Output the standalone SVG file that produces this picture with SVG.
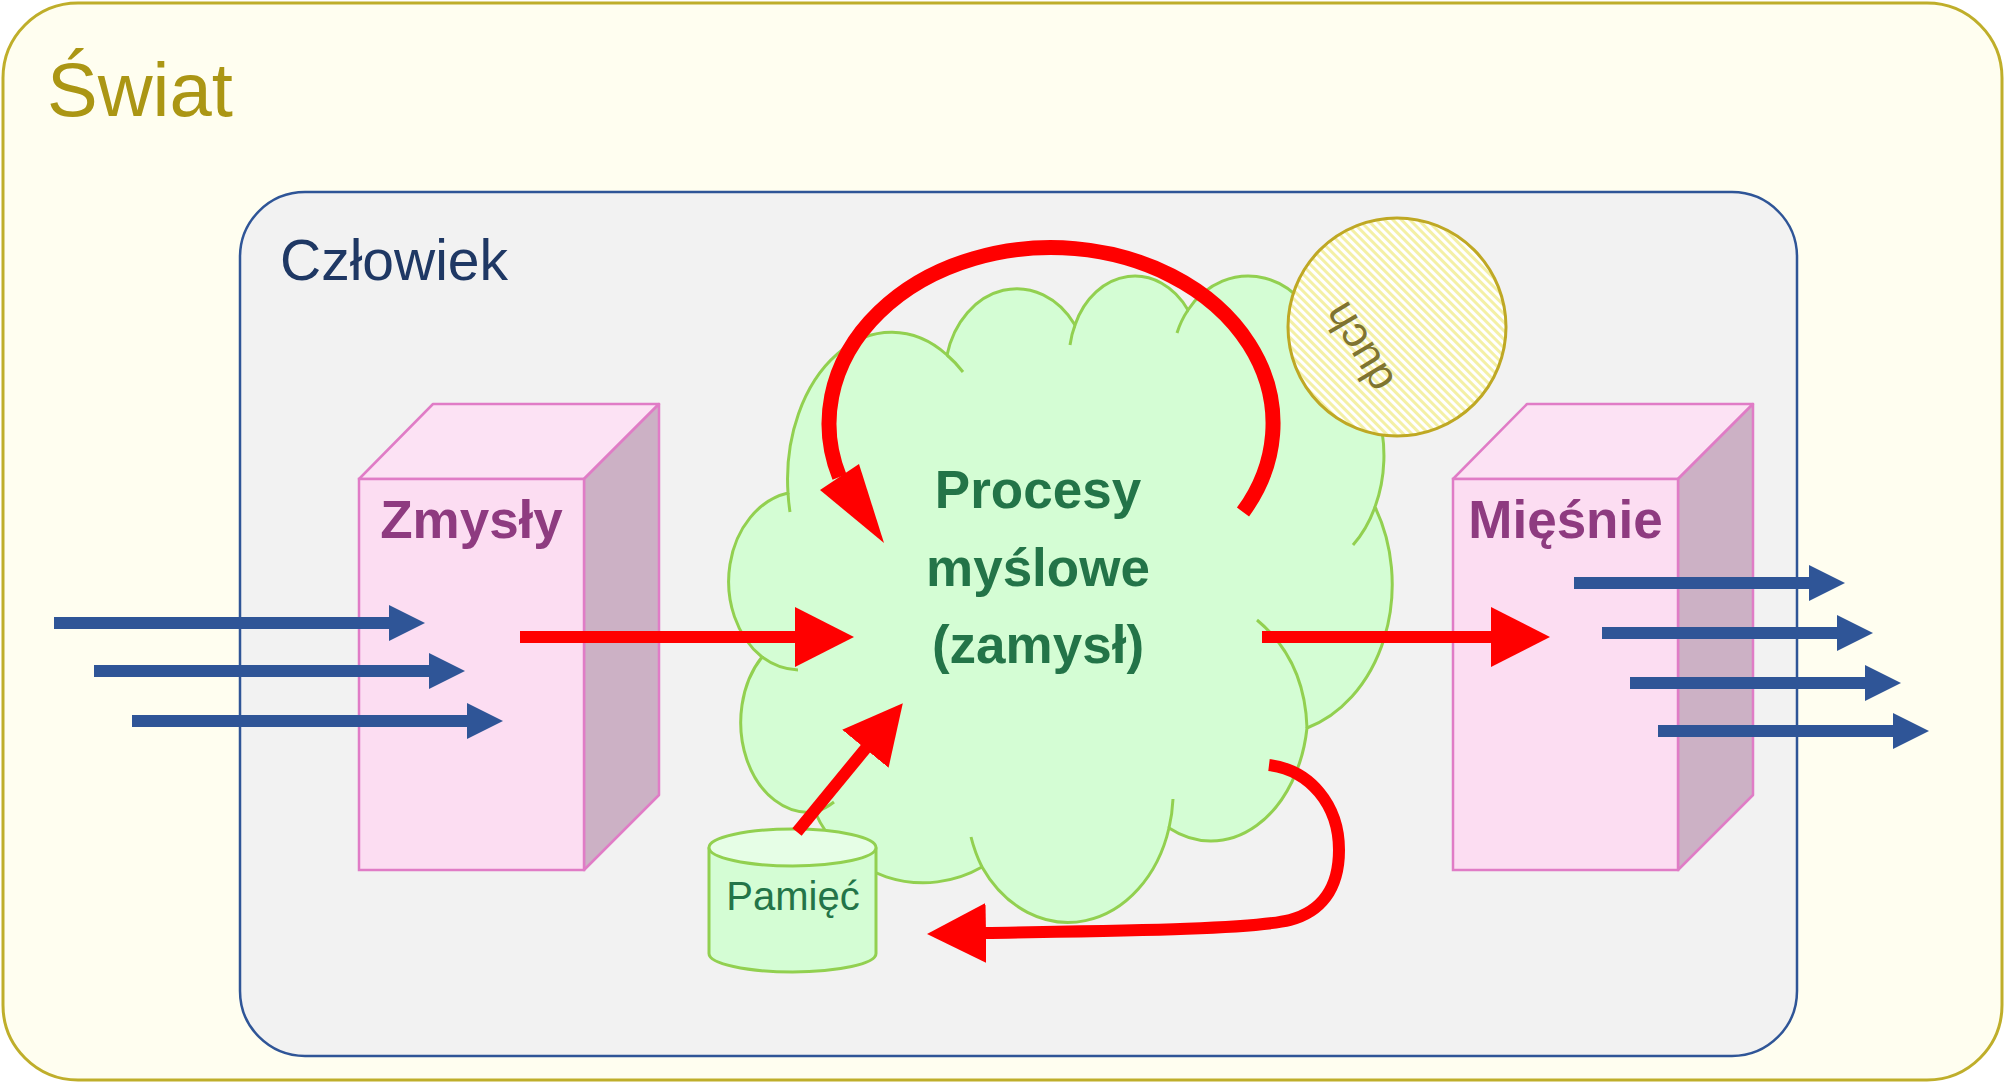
<svg xmlns="http://www.w3.org/2000/svg" width="2005" height="1083" viewBox="0 0 2005 1083">
<defs>
<style>
.lbl{font-family:"Liberation Sans",Arial,sans-serif}
.box-front{fill:#FCDDF2;stroke:#E07CC6;stroke-width:2.5}
.box-top{fill:#FCE2F4;stroke:#E07CC6;stroke-width:2.5;stroke-linejoin:round}
.box-side{fill:#CCB1C5;stroke:#E07CC6;stroke-width:2.5;stroke-linejoin:round}
.box-txt{font-family:"Liberation Sans",Arial,sans-serif;font-weight:bold;font-size:53px;fill:#8E3B80;text-anchor:middle}
.cloud-txt{font-family:"Liberation Sans",Arial,sans-serif;font-weight:bold;font-size:53px;fill:#237448;text-anchor:middle}
.tail{fill:none;stroke:#92D050;stroke-width:3}
.blue{stroke:#2F5597;stroke-width:12;fill:none;marker-end:url(#hb)}
.red{stroke:#FF0000;stroke-width:12;fill:none;marker-end:url(#hr)}
</style>
<marker id="hb" viewBox="0 0 36 36" refX="1" refY="18" markerWidth="36" markerHeight="36" markerUnits="userSpaceOnUse" orient="auto"><path d="M0,0 L36,18 L0,36 Z" fill="#2F5597"/></marker>
<marker id="hr" viewBox="0 0 59 60" refX="1" refY="30" markerWidth="59" markerHeight="60" markerUnits="userSpaceOnUse" orient="auto"><path d="M0,0 L59,30 L0,60 Z" fill="#FF0000"/></marker>
<pattern id="stripes" patternUnits="userSpaceOnUse" width="6" height="6" patternTransform="rotate(-45)"><rect width="6" height="6" fill="#FFFFFF"/><rect width="3" height="6" fill="#F4F0A6"/></pattern>
</defs>

<g id="swiat">
<rect x="3" y="3" width="1999" height="1077" rx="75" ry="75" fill="#FFFEF0" stroke="#BFAE2A" stroke-width="3"/>
<text class="lbl" x="47" y="116" font-size="76" fill="#AB9614">Świat</text>
</g>

<g id="czlowiek">
<rect x="240" y="192" width="1557" height="864" rx="65" ry="65" fill="#F2F2F2" stroke="#2F5597" stroke-width="2.5"/>
<text class="lbl" x="280" y="280" font-size="57" fill="#1F3864">Człowiek</text>
</g>

<g id="zmysly">
<polygon class="box-top" points="359,479 433,404 659,404 584,479"/>
<polygon class="box-side" points="584,479 659,404 659,795 584,870"/>
<rect class="box-front" x="359" y="479" width="225" height="391"/>
<text class="box-txt" x="471.5" y="538">Zmysły</text>
</g>

<g id="miesnie">
<polygon class="box-top" points="1453,479 1527,404 1753,404 1678,479"/>
<polygon class="box-side" points="1678,479 1753,404 1753,795 1678,870"/>
<rect class="box-front" x="1453" y="479" width="225" height="391"/>
<text class="box-txt" x="1565.5" y="538">Mięśnie</text>
</g>

<g id="procesy">
<path d="M 788 493 A 104 147 0 0 1 947 355 A 72 88 0 0 1 1075 325 A 65 80 0 0 1 1188 310 A 75 84 0 0 1 1322 345 A 85 115 0 0 1 1375 507 A 120 150 0 0 1 1307 728 A 97 132 0 0 1 1169 828 A 105 130 0 0 1 982 867 A 118 118 0 0 1 815 812 A 68 90 0 0 1 762 657 A 73 90 0 0 1 788 493 Z" fill="#D4FDD4" stroke="#92D050" stroke-width="3"/>
<path class="tail" d="M 788 493 A 104 147 0 0 0 790 512"/>
<path class="tail" d="M 947 355 A 104 147 0 0 1 963 372"/>
<path class="tail" d="M 1075 325 A 65 80 0 0 0 1070 345"/>
<path class="tail" d="M 1188 310 A 75 84 0 0 0 1177 333"/>
<path class="tail" d="M 1375 507 A 85 115 0 0 1 1353 545"/>
<path class="tail" d="M 1307 728 Q 1305 660 1257 620"/>
<path class="tail" d="M 1169 828 A 105 130 0 0 0 1173 799"/>
<path class="tail" d="M 982 867 A 105 130 0 0 1 971 837"/>
<path class="tail" d="M 815 812 A 68 90 0 0 0 834 802"/>
<path class="tail" d="M 762 657 A 73 90 0 0 0 798 670"/>
<text class="cloud-txt" x="1038" y="508">Procesy</text>
<text class="cloud-txt" x="1038" y="586">myślowe</text>
<text class="cloud-txt" x="1038" y="663">(zamysł)</text>
</g>

<g id="duch">
<circle cx="1397" cy="327" r="109" fill="url(#stripes)" stroke="#BFA824" stroke-width="3"/>
<text class="lbl" x="0" y="0" font-size="44" fill="#7F7430" text-anchor="middle" dominant-baseline="central" transform="translate(1358,348) rotate(-121)">duch</text>
</g>

<g id="pamiec">
<path d="M 709 847.5 L 709 953.5 A 83.5 18.5 0 0 0 876 953.5 L 876 847.5" fill="#D4FDD4" stroke="#92D050" stroke-width="3"/>
<ellipse cx="792.5" cy="847.5" rx="83.5" ry="18.5" fill="#E6FEE6" stroke="#92D050" stroke-width="3"/>
<text class="lbl" x="793" y="910" font-size="40" fill="#237448" text-anchor="middle">Pamięć</text>
</g>

<g id="connectors">
<line class="blue" x1="54" y1="623" x2="390" y2="623"/>
<line class="blue" x1="94" y1="671" x2="430" y2="671"/>
<line class="blue" x1="132" y1="721" x2="468" y2="721"/>
<line class="blue" x1="1574" y1="583" x2="1810" y2="583"/>
<line class="blue" x1="1602" y1="633" x2="1838" y2="633"/>
<line class="blue" x1="1630" y1="683" x2="1866" y2="683"/>
<line class="blue" x1="1658" y1="731" x2="1894" y2="731"/>
<line class="red" x1="520" y1="637" x2="796" y2="637"/>
<line class="red" x1="1262" y1="637" x2="1492" y2="637"/>
<line class="red" x1="797" y1="832" x2="866" y2="748"/>
<path class="red" d="M 1269 765 C 1310 770, 1339 805, 1339 850 C 1339 890, 1320 912, 1290 920 C 1250 930, 1100 931, 985 933"/>
<path d="M 1243 512 A 222 176 0 1 0 839.5 477" fill="none" stroke="#FF0000" stroke-width="15"/>
<polygon points="820,490 859,464 884,543" fill="#FF0000"/>
</g>
</svg>
